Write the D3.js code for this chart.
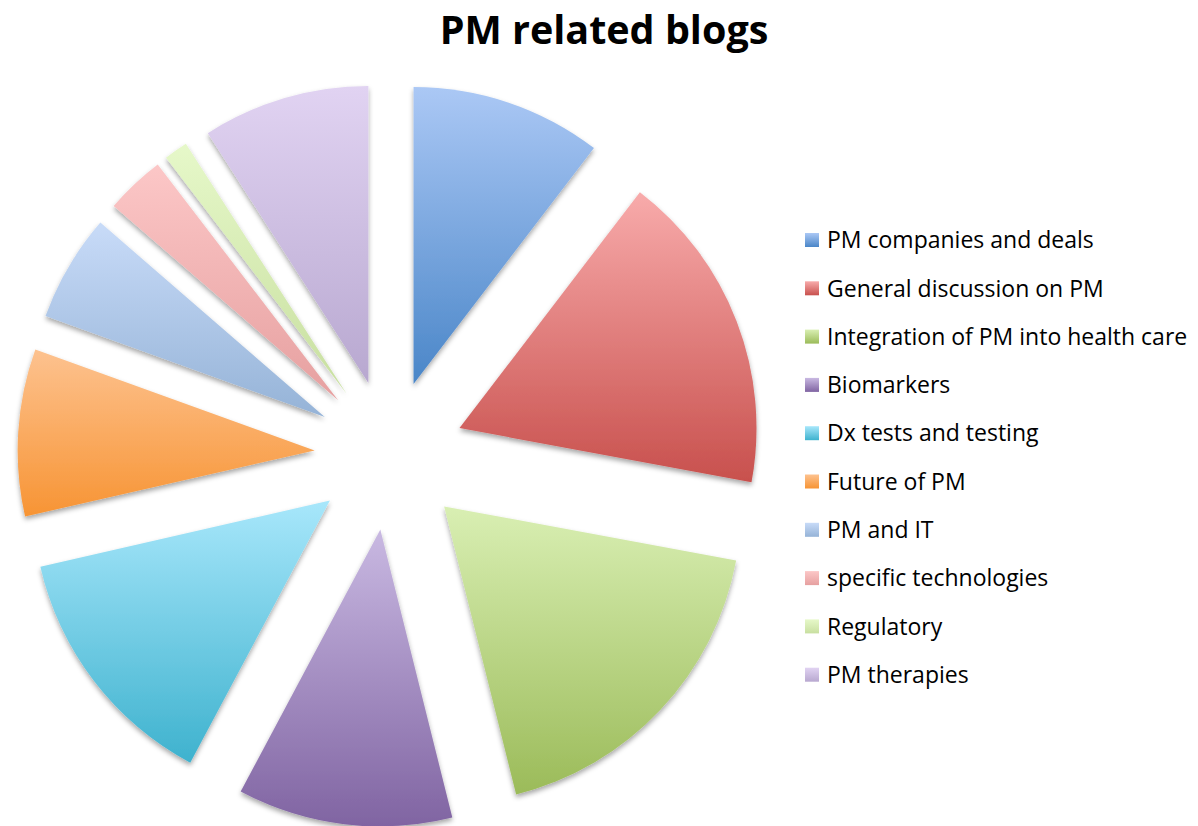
<!DOCTYPE html>
<html lang="en">
<head>
<meta charset="UTF-8">
<title>PM related blogs</title>
<script src="https://d3js.org/d3.v7.min.js"></script>
<style>
 body {margin: 0; padding: 0; background: #fff;}
 svg {display: block;}
 .title {font-family: "Open Sans", sans-serif; font-weight: bold; font-size: 39.5px; fill: #000;}
 .legend text {font-family: "Open Sans", sans-serif; font-size: 23px; fill: #000;}
</style>
</head>
<body>
<svg id="chart" width="1198" height="826"></svg>
<script>
// blog counts per topic
const categories = ['PM companies and deals', 'General discussion on PM', 'Integration of PM into health care',
  'Biomarkers', 'Dx tests and testing', 'Future of PM', 'PM and IT', 'specific technologies',
  'Regulatory', 'PM therapies'];
const counts = [16, 27, 28, 18, 21, 14, 9, 5, 2, 14];
const topColors = ['#abc8f5', '#f8abab', '#d9efb3', '#c9b9e2', '#a8e7fb', '#fdc28f', '#c8dbf8', '#fcc7c7', '#e6f8c9', '#e1d3f2'];
const bottomColors = ['#4a86c8', '#c8504d', '#9bbb59', '#8064a2', '#3eb2ce', '#f79434', '#95b3d7', '#e6a0a0', '#c8dfa0', '#b8a8d0'];

const width = 1198, height = 826;
const cx = 389.5, cy = 455, radius = 297, explode = 75;

const svg = d3.select('#chart');
const defs = svg.append('defs');

const shadow = defs.append('filter').attr('id', 'shadow')
  .attr('x', '-10%').attr('y', '-10%').attr('width', '120%').attr('height', '120%');
shadow.append('feDropShadow').attr('dx', 0).attr('dy', 3).attr('stdDeviation', 2.5)
  .attr('flood-color', '#000').attr('flood-opacity', 0.35);

categories.forEach((c, i) => {
  const g = defs.append('linearGradient').attr('id', 'grad' + i)
    .attr('x1', 0).attr('y1', 0).attr('x2', 0).attr('y2', 1);
  g.append('stop').attr('offset', '0%').attr('stop-color', topColors[i]);
  g.append('stop').attr('offset', '100%').attr('stop-color', bottomColors[i]);
});

svg.append('text').attr('class', 'title')
  .attr('x', 604).attr('y', 44).attr('text-anchor', 'middle')
  .text('PM related blogs');

const data = categories.map((c, i) => ({name: c, value: counts[i], i}));
const pie = d3.pie().sort(null).value(d => d.value);
const arc = d3.arc().innerRadius(0).outerRadius(radius);

const slices = svg.append('g').attr('transform', `translate(${cx},${cy})`)
  .selectAll('path').data(pie(data)).enter()
  .append('path')
  .attr('d', arc)
  .attr('fill', d => `url(#grad${d.data.i})`)
  .attr('filter', 'url(#shadow)')
  .attr('transform', d => {
    const a = (d.startAngle + d.endAngle) / 2;
    return `translate(${explode * Math.sin(a)},${-explode * Math.cos(a)})`;
  });

const legend = svg.append('g').attr('class', 'legend');
const row = legend.selectAll('g').data(data).enter().append('g')
  .attr('transform', (d, i) => `translate(805,${240 + i * 48.3})`);
row.append('rect').attr('x', 0).attr('y', -7).attr('width', 14).attr('height', 14)
  .attr('fill', d => `url(#grad${d.i})`);
row.append('text').attr('x', 22).attr('y', 0).attr('dy', '0.36em').text(d => d.name);
</script>
</body>
</html>
